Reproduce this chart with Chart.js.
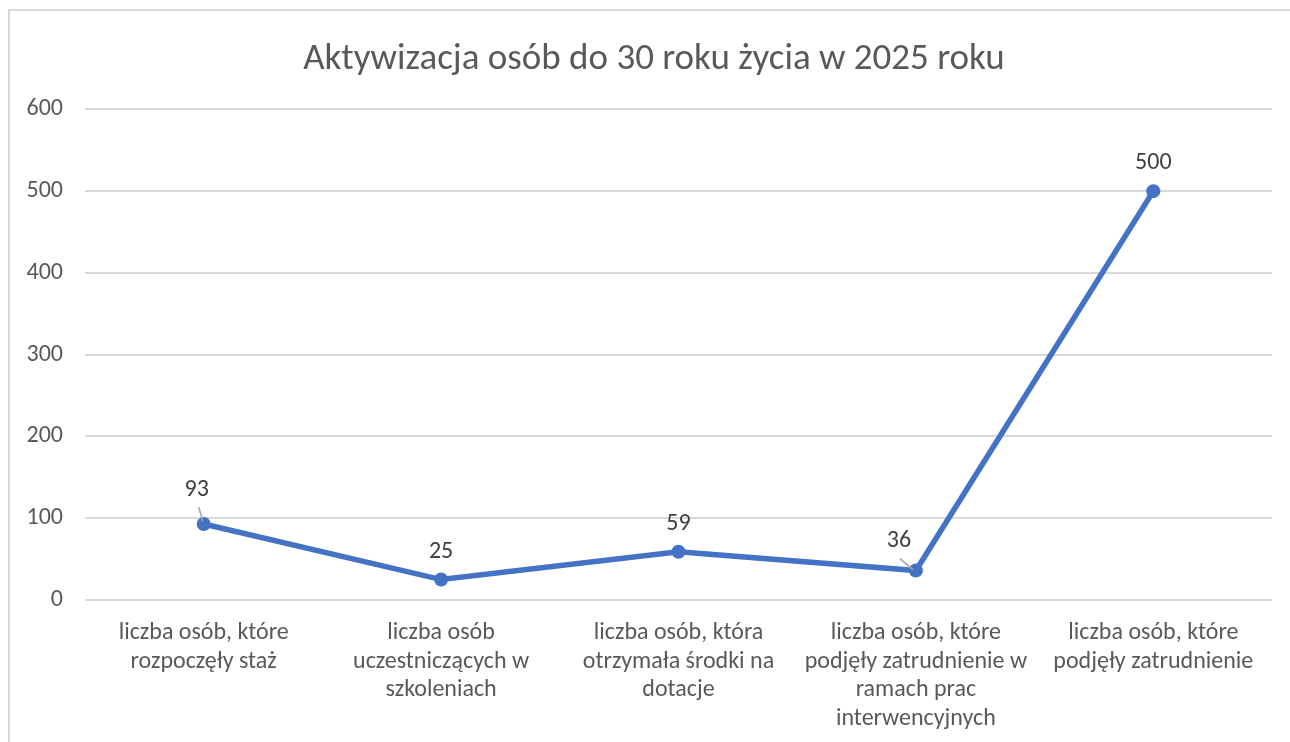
<!DOCTYPE html>
<html>
<head>
<meta charset="utf-8">
<script src="https://cdn.jsdelivr.net/npm/chart.js@4/dist/chart.umd.min.js"></script>
<style>
  html, body { margin: 0; padding: 0; background: #fff; overflow: hidden; }
  #frame { position: absolute; left: 8px; top: 9px; width: 1400px; height: 900px; border: 2px solid #d9d9d9; box-sizing: border-box; }
  #c { position: absolute; left: 0; top: 0; }
</style>
</head>
<body>
<div id="frame"></div>
<canvas id="c" width="1290" height="742"></canvas>
<script>
const titleText = 'Aktywizacja osób do 30 roku życia w 2025 roku';
const categories = [
  ['liczba osób, które', 'rozpoczęły staż'],
  ['liczba osób', 'uczestniczących w', 'szkoleniach'],
  ['liczba osób, która', 'otrzymała środki na', 'dotacje'],
  ['liczba osób, które', 'podjęły zatrudnienie w', 'ramach prac', 'interwencyjnych'],
  ['liczba osób, które', 'podjęły zatrudnienie']
];
const values = [93, 25, 59, 36, 500];
const yTicks = [0, 100, 200, 300, 400, 500, 600];

// label placement (offsets from the point, px) and leader lines
const labelOffsets = [[-7, -34], [0, -28], [0, -28], [-17, -30], [0, -28]];
const leaderLines = [[-5, -17, -1, -3], null, null, [-16, -12, -3, -1], null];

const FONT = 'Carlito, Lato, sans-serif';

const dataLabelPlugin = {
  id: 'dataLabels',
  afterDatasetsDraw(chart) {
    const ctx = chart.ctx;
    const meta = chart.getDatasetMeta(0);
    ctx.save();
    meta.data.forEach((pt, i) => {
      const ll = leaderLines[i];
      if (ll) {
        ctx.strokeStyle = '#a6a6a6';
        ctx.lineWidth = 1.5;
        ctx.beginPath();
        ctx.moveTo(pt.x + ll[0], pt.y + ll[1]);
        ctx.lineTo(pt.x + ll[2], pt.y + ll[3]);
        ctx.stroke();
      }
      ctx.fillStyle = '#404040';
      ctx.font = '24px ' + FONT;
      ctx.textAlign = 'center';
      ctx.textBaseline = 'middle';
      const off = labelOffsets[i];
      ctx.fillText(String(values[i]), pt.x + off[0], pt.y + off[1]);
    });
    ctx.restore();
  }
};

new Chart(document.getElementById('c'), {
  type: 'line',
  data: {
    labels: categories,
    datasets: [{
      data: values,
      borderColor: '#4472C4',
      backgroundColor: '#4472C4',
      borderWidth: 5.5,
      pointRadius: 7,
      pointHoverRadius: 7,
      pointBackgroundColor: '#4472C4',
      pointBorderWidth: 0,
      tension: 0,
      yAxisID: 'y'
    }]
  },
  options: {
    responsive: false,
    animation: false,
    devicePixelRatio: 1,
    layout: { padding: { left: 18, right: 0, top: 0, bottom: 0 } },
    plugins: {
      legend: { display: false },
      tooltip: { enabled: false },
      title: {
        display: true,
        text: titleText,
        color: '#595959',
        font: { family: FONT, size: 37, weight: 'normal', lineHeight: 1.2 },
        padding: { top: 38, bottom: 27 }
      }
    },
    scales: {
      x: {
        offset: true,
        grid: { display: false, drawTicks: false },
        border: { display: false },
        ticks: {
          color: '#595959',
          font: { family: FONT, size: 24, lineHeight: '28.5px' },
          padding: 19,
          autoSkip: false,
          maxRotation: 0,
          minRotation: 0
        },
        afterFit(scale) { scale.height = 142; }
      },
      y: {
        position: 'left',
        min: 0,
        max: 600,
        afterBuildTicks(scale) { scale.ticks = yTicks.map(v => ({ value: v })); },
        grid: { color: '#d9d9d9', lineWidth: 2, drawTicks: false },
        border: { display: false },
        ticks: {
          color: '#595959',
          font: { family: FONT, size: 24 },
          padding: 22
        },
        afterFit(scale) { scale.width = 67; }
      },
      yR: {
        position: 'right',
        display: true,
        min: 0,
        max: 600,
        grid: { display: false, drawTicks: false },
        border: { display: false },
        ticks: { display: false },
        afterFit(scale) { scale.width = 18; }
      }
    }
  },
  plugins: [dataLabelPlugin]
});
</script>
</body>
</html>
